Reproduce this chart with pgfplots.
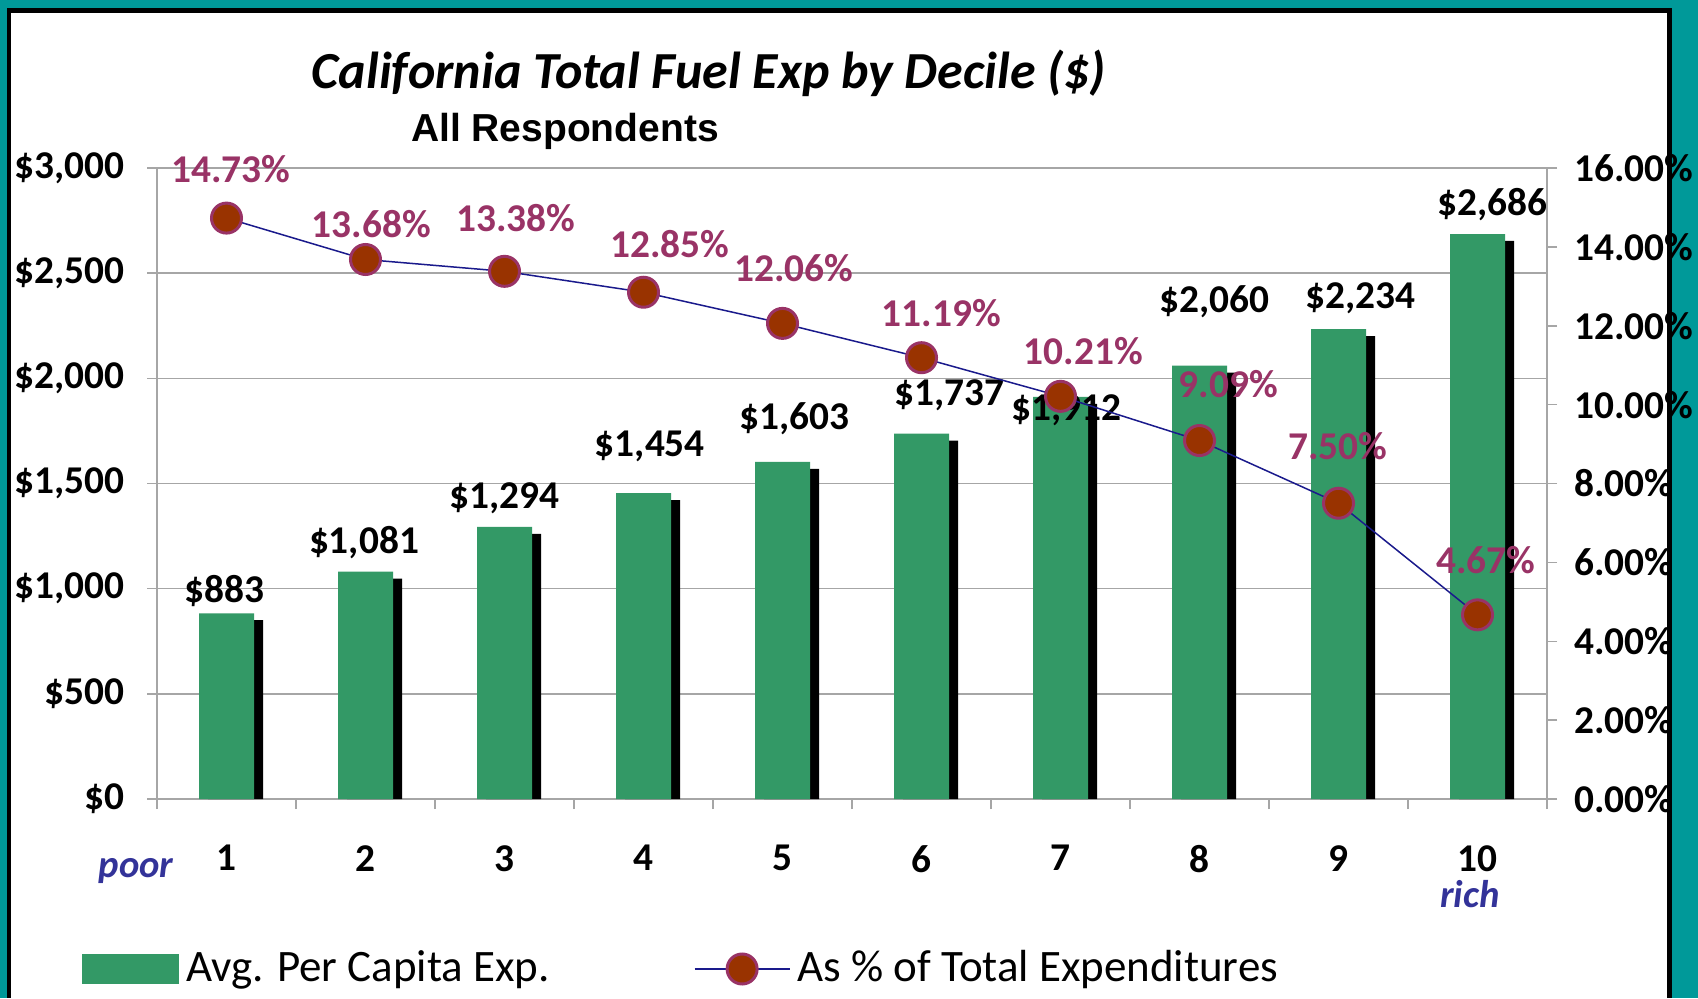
\documentclass[border=0pt]{standalone}
\usepackage{pgfplots}
\pgfplotsset{compat=1.18}
\usepackage{pgfplotstable}
\usepackage{fontspec}
\setmainfont{Carlito}
\newfontfamily\arialfont{Liberation Sans}
\definecolor{tealframe}{HTML}{009999}
\definecolor{barGreen}{HTML}{339966}
\definecolor{lineBlue}{HTML}{1A1A8C}
\definecolor{mkFill}{HTML}{993300}
\definecolor{mkEdge}{HTML}{993366}
\definecolor{pctText}{HTML}{993366}
\definecolor{poorBlue}{HTML}{333399}
\definecolor{gridGray}{HTML}{A6A6A6}

\pgfplotsset{mylinelegend/.style={legend image code/.code={\draw[mark repeat=2,mark phase=2,##1] plot coordinates {(0mm,0mm) (4.75mm,0mm) (9.5mm,0mm)};}}}

\pgfplotstableread{
x v
1 883
2 1081
3 1294
4 1454
5 1603
6 1737
7 1912
8 2060
9 2234
10 2686
}\expdata
\pgfplotstableread{
x p
1 14.73
2 13.68
3 13.38
4 12.85
5 12.06
6 11.19
7 10.21
8 9.09
9 7.50
10 4.67
}\pctdata

\newcommand{\numfont}{\fontsize{11.2pt}{13pt}\selectfont\bfseries}

\begin{document}
\begin{tikzpicture}
\useasboundingbox (0,0) rectangle (169.8mm,99.8mm);
\fill[white] (0,0) rectangle (169.8mm,99.8mm);
% frame
\fill[tealframe] (0,0) rectangle (0.7mm,99.8mm);
\fill[black] (0.7mm,0) rectangle (1.1mm,98.96mm);
\fill[tealframe] (0,98.96mm) rectangle (169.8mm,99.8mm);
\fill[black] (0.7mm,98.46mm) rectangle (167.2mm,98.96mm);
\fill[black] (166.7mm,0) rectangle (167.2mm,98.96mm);
\fill[tealframe] (167.2mm,0) rectangle (169.8mm,99.8mm);
\begin{axis}[
  at={(15.7mm,19.9mm)}, anchor=south west,
  scale only axis, width=139mm, height=63.1mm,
  xmin=0.5, xmax=10.5, ymin=0, ymax=3000,
  axis x line*=bottom, axis y line*=left,
  axis line style={draw=gridGray, line width=0.15mm},
  tick align=outside, major tick length=1mm,
  tick style={draw=gridGray, line width=0.15mm},
  ymajorgrids, major grid style={draw=gridGray, line width=0.15mm},
  ytick={0,500,...,3000},
  yticklabels={\$0,\$500,{\$1,000},{\$1,500},{\$2,000},{\$2,500},{\$3,000}},
  yticklabel style={font=\numfont, anchor=east, xshift=-1mm},
  xtick={0.5,1.5,...,10.5}, xticklabels={},
  extra x ticks={1,2,3,4,5,6,7,8,9,10},
  extra x tick labels={1,2,3,4,5,6,7,8,9,10},
  extra x tick style={major tick length=0pt, xticklabel style={font=\numfont, yshift=-3.4mm}},
  /pgf/number format/assume math mode=true,
  clip=false,
]
\addplot[ybar, bar width=5.5mm, bar shift=0.9mm, fill=black, draw=none] table[x=x, y expr=\thisrow{v}-33] {\expdata};
\addplot[ybar, bar width=5.5mm, bar shift=0pt, fill=barGreen, draw=none] table[x=x, y=v] {\expdata};
\begin{scope}[every node/.style={font=\numfont, text=black}]
\node at (axis cs:0.983,988) {\$883};
\node at (axis cs:1.989,1220) {\$1,081};
\node at (axis cs:3.002,1431) {\$1,294};
\node at (axis cs:4.046,1678) {\$1,454};
\node at (axis cs:5.083,1806) {\$1,603};
\node at (axis cs:6.198,1919) {\$1,737};
\node at (axis cs:7.04,1847) {\$1,912};
\node at (axis cs:8.107,2362) {\$2,060};
\node at (axis cs:9.16,2383) {\$2,234};
\node at (axis cs:10.11,2825) {\$2,686};
\end{scope}
\end{axis}
\begin{axis}[
  at={(15.7mm,19.9mm)}, anchor=south west,
  scale only axis, width=139mm, height=63.1mm,
  xmin=0.5, xmax=10.5, ymin=0, ymax=16,
  axis x line=none, axis y line*=right,
  axis line style={draw=gridGray, line width=0.15mm},
  tick align=outside, major tick length=1mm,
  tick style={draw=gridGray, line width=0.15mm},
  ytick={0,2,...,16},
  yticklabels={0.00\%,2.00\%,4.00\%,6.00\%,8.00\%,10.00\%,12.00\%,14.00\%,16.00\%},
  yticklabel style={font=\numfont, anchor=west, xshift=0.5mm},
  /pgf/number format/assume math mode=true,
  clip=false,
  legend style={at={(-0.0547,-0.2694)}, anchor=west, draw=none, fill=none,
    legend columns=2, font=\fontsize{12.8pt}{15pt}\selectfont, inner sep=0pt,
    /tikz/every even column/.append style={column sep=13.7mm}},
  legend cell align=left,
]
\addlegendimage{legend image code/.code={\fill[barGreen] (0mm,-1.4mm) rectangle (9.6mm,1.4mm);}}
\addlegendentry{Avg. Per Capita Exp.}
\addplot[lineBlue, line width=0.15mm, mark=*, mark size=1.5mm,
  mark options={fill=mkFill, draw=mkEdge, line width=0.3mm}, mylinelegend
  ] table[x=x, y=p] {\pctdata};
\addlegendentry{As \% of Total Expenditures}
\begin{scope}[every node/.style={font=\numfont, text=pctText}]
\node at (axis cs:1.03,15.97) {14.73\%};
\node at (axis cs:2.043,14.57) {13.68\%};
\node at (axis cs:3.08,14.74) {13.38\%};
\node at (axis cs:4.19,14.08) {12.85\%};
\node at (axis cs:5.083,13.47) {12.06\%};
\node at (axis cs:6.143,12.32) {11.19\%};
\node at (axis cs:7.164,11.36) {10.21\%};
\node at (axis cs:8.208,10.51) {9.09\%};
\node at (axis cs:8.996,8.95) {7.50\%};
\node at (axis cs:10.06,6.07) {4.67\%};
\end{scope}
\end{axis}
\node[anchor=base, font=\fontsize{14.8pt}{18pt}\selectfont\bfseries\itshape] at (70.9mm,90.9mm) {California Total Fuel Exp by Decile (\$)};
\node[anchor=base, font=\arialfont\fontsize{11.1pt}{13pt}\selectfont\bfseries] at (56.5mm,85.6mm) {All Respondents};
\node[anchor=base, text=poorBlue, font=\fontsize{11pt}{13pt}\selectfont\bfseries\itshape] at (13.6mm,12.1mm) {poor};
\node[anchor=base, text=poorBlue, font=\fontsize{11pt}{13pt}\selectfont\bfseries\itshape] at (147mm,9.1mm) {rich};
\end{tikzpicture}
\end{document}
